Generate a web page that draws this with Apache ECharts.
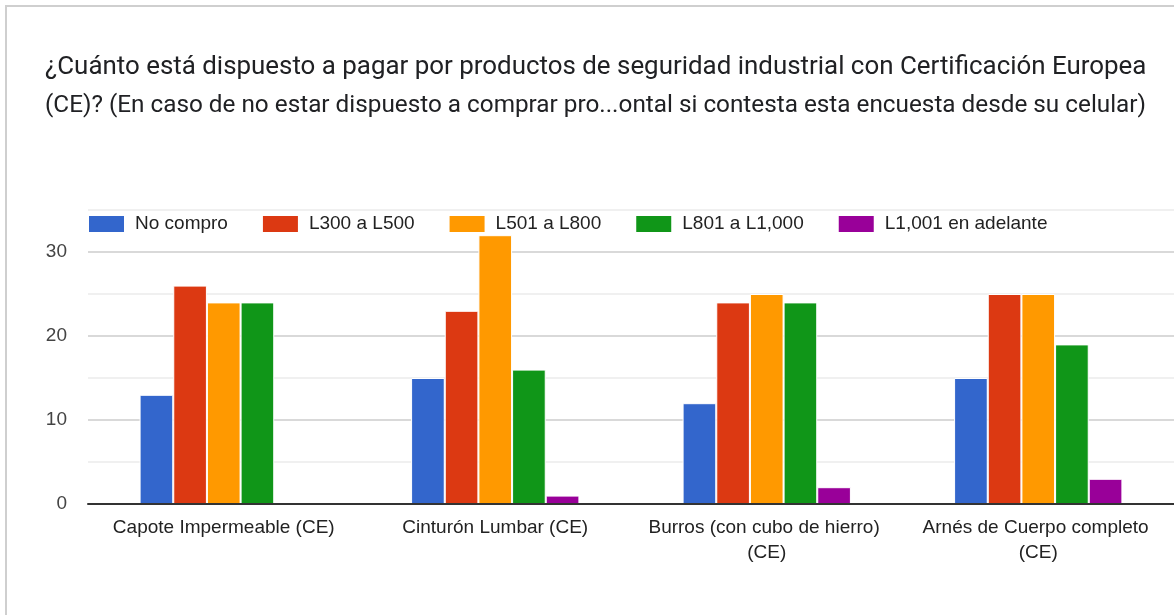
<!DOCTYPE html>
<html>
<head>
<meta charset="utf-8">
<script src="https://cdn.jsdelivr.net/npm/echarts@6/dist/echarts.min.js"></script>
<style>
html,body{margin:0;padding:0;background:#fff;}
#frame{position:absolute;left:5px;top:5px;width:1200px;height:700px;border-left:2px solid #cfcfcf;border-top:2px solid #cfcfcf;}
#chart{position:absolute;left:0;top:0;width:1174px;height:615px;}
</style>
</head>
<body>
<div id="frame"></div>
<div id="chart"></div>
<script>
const titleLine1 = "¿Cuánto está dispuesto a pagar por productos de seguridad industrial con Certificación Europea";
const titleLine2 = "(CE)? (En caso de no estar dispuesto a comprar pro...ontal si contesta esta encuesta desde su celular)";
const categories = ["Capote Impermeable (CE)", "Cinturón Lumbar (CE)", "Burros (con cubo de hierro) (CE)", "Arnés de Cuerpo completo (CE)"];
const seriesNames = ["No compro", "L300 a L500", "L501 a L800", "L801 a L1,000", "L1,001 en adelante"];
const noCompro = [13, 15, 12, 15];
const l300 = [26, 23, 24, 25];
const l501 = [24, 32, 25, 25];
const l801 = [24, 16, 24, 19];
const l1001 = [0, 1, 2, 3];
const colors = ["#3366cc", "#dc3912", "#ff9900", "#109618", "#990099"];

// fit each title line to the reference line width
const ctx = document.createElement('canvas').getContext('2d');
function fitSize(text, target, base) {
  ctx.font = base + 'px Roboto';
  const w = ctx.measureText(text).width;
  return Math.min(base, base * target / w);
}
const s1 = fitSize(titleLine1, 1102, 26);
const s2 = fitSize(titleLine2, 1102, 26);

const values = [noCompro, l300, l501, l801, l1001];
const chart = echarts.init(document.getElementById('chart'));
chart.setOption({
  animation: false,
  title: {
    text: '{a|' + titleLine1 + '}\n{b|' + titleLine2 + '}',
    left: 45, top: 49, padding: 0,
    textStyle: {
      fontFamily: 'Roboto', fontSize: 26, fontWeight: 'normal', color: '#202124', lineHeight: 38,
      rich: {
        a: {fontFamily: 'Roboto', fontSize: s1, color: '#202124', lineHeight: 38},
        b: {fontFamily: 'Roboto', fontSize: s2, color: '#202124', lineHeight: 38}
      }
    }
  },
  legend: {
    left: 87, top: 214, padding: 0,
    itemWidth: 37, itemHeight: 18, itemGap: 33,
    icon: 'rect',
    textStyle: {fontFamily: 'Liberation Sans, Arial', fontSize: 19, color: '#222', padding: [0,0,0,5]},
    data: seriesNames
  },
  grid: {left: 88, top: 210, width: 1094, height: 294},
  xAxis: {
    type: 'category',
    z: 5,
    data: categories,
    axisTick: {show: false},
    axisLine: {lineStyle: {color: '#333', width: 2}},
    axisLabel: {fontFamily: 'Liberation Sans, Arial', fontSize: 19, color: '#222', margin: 11, lineHeight: 25, width: 265, overflow: 'break', interval: 0}
  },
  yAxis: {
    type: 'value',
    min: 0, max: 35, interval: 5,
    axisLine: {show: false},
    axisTick: {show: false},
    axisLabel: {fontFamily: 'Liberation Sans, Arial', fontSize: 19, color: '#444', margin: 21, padding: [4, 0, 0, 0],
      formatter: v => (v % 10 === 0 && v <= 30) ? String(v) : ''},
    splitLine: {lineStyle: {color: ['#cccccc', '#ebebeb'], width: 1.5}}
  },
  series: seriesNames.map((n, i) => ({
    name: n,
    type: 'bar',
    data: values[i],
    barGap: '0%',
    barCategoryGap: '38%',
    itemStyle: {color: colors[i], borderColor: '#fff', borderWidth: 1}
  }))
});
</script>
</body>
</html>
